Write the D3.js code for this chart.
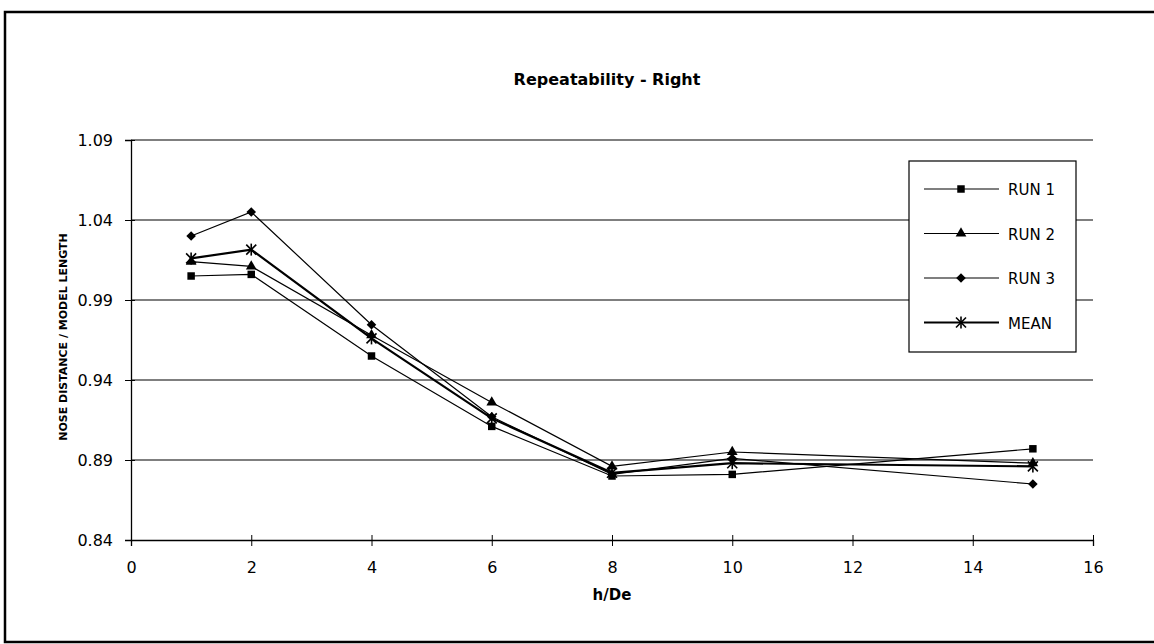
<!DOCTYPE html>
<html><head><meta charset="utf-8">
<script src="https://cdn.jsdelivr.net/npm/d3@7"></script>
<style>body{margin:0;background:#fff}svg{display:block}</style>
</head><body>
<script>
const xValues = [1, 2, 4, 6, 8, 10, 15];
const run1 = [1.005, 1.006, 0.955, 0.911, 0.880, 0.881, 0.897];
const run2 = [1.014, 1.011, 0.968, 0.926, 0.886, 0.895, 0.888];
const run3 = [1.030, 1.045, 0.9745, 0.917, 0.881, 0.891, 0.875];
const mean = [1.016, 1.0215, 0.966, 0.916, 0.882, 0.888, 0.886];
const seriesNames = ["RUN 1", "RUN 2", "RUN 3", "MEAN"];
const yTicks = [0.84, 0.89, 0.94, 0.99, 1.04, 1.09];
const xTicks = [0, 2, 4, 6, 8, 10, 12, 14, 16];

const W = 1154, H = 644;
const svg = d3.select("body").append("svg").attr("width", W).attr("height", H);
const font = "'DejaVu Sans', sans-serif";

svg.append("rect").attr("x", 5).attr("y", 12).attr("width", 1160).attr("height", 630)
  .attr("fill", "none").attr("stroke", "#000").attr("stroke-width", 2.5);

const x = d3.scaleLinear().domain([0, 16]).range([131, 1093]);
const y = d3.scaleLinear().domain([0.84, 1.09]).range([540, 140]);

// gridlines
svg.append("g").selectAll("line").data(yTicks.slice(1)).join("line")
  .attr("x1", x(0)).attr("x2", x(16)).attr("y1", d => y(d)).attr("y2", d => y(d))
  .attr("stroke", "#000").attr("stroke-width", 1.2);

// axes
const yAxis = svg.append("g").attr("transform", `translate(${x(0)},0)`)
  .call(d3.axisLeft(y).tickValues(yTicks).tickFormat(d3.format(".2f")).tickSize(6).tickPadding(12));
const xAxis = svg.append("g").attr("transform", `translate(0,${y(0.84)})`)
  .call(d3.axisBottom(x).tickValues(xTicks).tickFormat(d3.format("d")).tickSize(6).tickPadding(16));
[yAxis, xAxis].forEach(g => {
  g.select(".domain").attr("stroke", "#000").attr("stroke-width", 1.3);
  g.selectAll(".tick line").attr("stroke", "#000").attr("stroke-width", 1);
  g.selectAll("text").attr("font-family", font).attr("font-size", 16).attr("fill", "#000");
});
yAxis.selectAll(".tick").append("line").attr("x1", 0).attr("x2", 4).attr("stroke", "#000");
xAxis.selectAll(".tick").append("line").attr("y1", 0).attr("y2", -5).attr("stroke", "#000");

// titles
svg.append("text").attr("x", 607).attr("y", 85).attr("text-anchor", "middle")
  .attr("font-family", font).attr("font-weight", "bold").attr("font-size", 16).text("Repeatability - Right");
svg.append("text").attr("x", 612).attr("y", 600).attr("text-anchor", "middle")
  .attr("font-family", font).attr("font-weight", "bold").attr("font-size", 15).text("h/De");
svg.append("text").attr("transform", "translate(67,337) rotate(-90)").attr("text-anchor", "middle")
  .attr("font-family", font).attr("font-weight", "bold").attr("font-size", 11).text("NOSE DISTANCE / MODEL LENGTH");

const series = [run1, run2, run3, mean];
const widths = [1.2, 1.2, 1.2, 2.2];

function marker(g, i, cx, cy) {
  if (i === 0) {
    g.append("path").attr("d", d3.symbol().type(d3.symbolSquare).size(56)())
      .attr("transform", `translate(${cx},${cy})`).attr("fill", "#000");
  } else if (i === 1) {
    g.append("path").attr("d", d3.symbol().type(d3.symbolTriangle).size(50)())
      .attr("transform", `translate(${cx},${cy})`).attr("fill", "#000");
  } else if (i === 2) {
    g.append("path").attr("d", d3.symbol().type(d3.symbolSquare).size(46)())
      .attr("transform", `translate(${cx},${cy}) rotate(45)`).attr("fill", "#000");
  } else {
    const r = 5;
    const a = g.append("g").attr("transform", `translate(${cx},${cy})`).attr("stroke", "#000").attr("stroke-width", 1.6);
    a.append("line").attr("x1", -r).attr("y1", -r).attr("x2", r).attr("y2", r);
    a.append("line").attr("x1", -r).attr("y1", r).attr("x2", r).attr("y2", -r);
    a.append("line").attr("x1", 0).attr("y1", -r - 1).attr("x2", 0).attr("y2", r + 1);
  }
}

const line = d3.line().x((d, i) => x(xValues[i])).y(d => y(d));
series.forEach((s, i) => {
  svg.append("path").datum(s).attr("d", line).attr("fill", "none")
    .attr("stroke", "#000").attr("stroke-width", widths[i]);
});
series.forEach((s, i) => {
  const g = svg.append("g");
  s.forEach((v, j) => marker(g, i, x(xValues[j]), y(v)));
});

// legend
const lg = svg.append("g");
lg.append("rect").attr("x", 909).attr("y", 161).attr("width", 167).attr("height", 191)
  .attr("fill", "#fff").attr("stroke", "#000").attr("stroke-width", 1.2);
seriesNames.forEach((n, i) => {
  const ly = 189 + i * 44.5;
  lg.append("line").attr("x1", 924).attr("x2", 999).attr("y1", ly).attr("y2", ly)
    .attr("stroke", "#000").attr("stroke-width", i === 3 ? 1.8 : 1.2);
  marker(lg, i, 961, ly);
  lg.append("text").attr("x", 1008).attr("y", ly + 6).attr("font-family", font)
    .attr("font-size", 15).text(n);
});
</script>
</body></html>
